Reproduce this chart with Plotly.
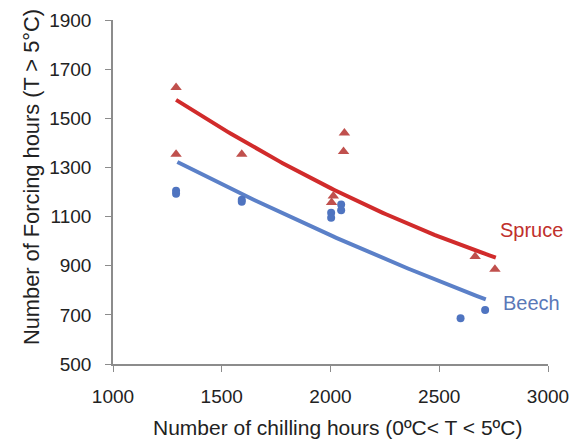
import numpy as np
import plotly.graph_objects as go

# Data
spruce_x = [1290, 1290, 1592, 2005, 2013, 2060, 2064, 2665, 2756]
spruce_y = [1625, 1354, 1354, 1157, 1184, 1365, 1440, 937, 886]
beech_x = [1290, 1290, 1592, 1592, 2003, 2003, 2049, 2049, 2598, 2711]
beech_y = [1205, 1193, 1168, 1160, 1116, 1095, 1149, 1126, 686, 720]

# Trend curves, read as points along the drawn lines
spruce_trend_x = [1290, 2000, 2760]
spruce_trend_y = [1575, 1216, 933]
beech_trend_x = [1296, 2000, 2714]
beech_trend_y = [1322, 1024, 763]

x_ticks = [1000, 1500, 2000, 2500, 3000]
y_ticks = [500, 700, 900, 1100, 1300, 1500, 1700, 1900]

x_title = "Number of chilling hours (0ºC< T < 5ºC)"
y_title = "Number of Forcing hours (T > 5°C)"

RED_PT = "#C0504D"
RED_LN = "#D12B2B"
BLUE_PT = "#4F74C0"
BLUE_LN = "#5B80C8"
TXT = "#222222"
FONT = "Liberation Sans"

def trend(xs, ys):
    c = np.polyfit(xs, ys, 2)
    xx = np.linspace(xs[0], xs[-1], 100)
    return xx, np.polyval(c, xx)

fig = go.Figure()
bx, by = trend(beech_trend_x, beech_trend_y)
sx, sy = trend(spruce_trend_x, spruce_trend_y)
fig.add_trace(go.Scatter(x=bx, y=by, mode="lines", line=dict(color=BLUE_LN, width=4)))
fig.add_trace(go.Scatter(x=sx, y=sy, mode="lines", line=dict(color=RED_LN, width=4)))
fig.add_trace(go.Scatter(x=beech_x, y=beech_y, mode="markers",
                         marker=dict(symbol="circle", size=8, color=BLUE_PT)))
fig.add_trace(go.Scatter(x=spruce_x, y=spruce_y, mode="markers",
                         marker=dict(symbol="triangle-up", size=10, color=RED_PT)))

fig.add_annotation(x=2923, y=1046, text="Spruce", showarrow=False,
                   font=dict(size=20, color="#C0302C", family=FONT))
fig.add_annotation(x=2923, y=748, text="Beech", showarrow=False,
                   font=dict(size=20, color="#5A78B8", family=FONT))

# axis titles
fig.add_annotation(xref="paper", yref="paper", x=0.517, y=-0.186, text=x_title,
                   showarrow=False, xanchor="center", yanchor="middle",
                   font=dict(size=21, color=TXT, family=FONT))
fig.add_annotation(xref="paper", yref="paper", x=-0.1885, y=0.5436, text=y_title,
                   showarrow=False, textangle=-90, xanchor="center", yanchor="middle",
                   font=dict(size=21.8, color=TXT, family=FONT))

axis_common = dict(showgrid=False, zeroline=False, showline=True, linecolor="#8C8C8C",
                   linewidth=1.5, ticks="outside", ticklen=6, tickcolor="#8C8C8C",
                   automargin=False,
                   tickfont=dict(size=19, color=TXT, family=FONT))
fig.update_layout(
    width=570, height=439,
    margin=dict(l=113, r=22, t=20, b=75),
    paper_bgcolor="white", plot_bgcolor="white",
    showlegend=False,
    xaxis=dict(range=[1000, 3000], tickvals=x_ticks, ticklabelstandoff=8, **axis_common),
    yaxis=dict(range=[500, 1900], tickvals=y_ticks, ticklabelstandoff=10, **axis_common),
)

fig.write_html("out.html")
